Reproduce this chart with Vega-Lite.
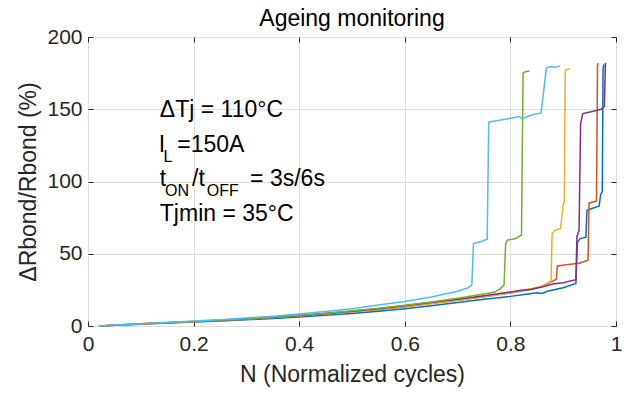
{
  "$schema": "https://vega.github.io/schema/vega-lite/v6.json",
  "width": 528,
  "height": 289,
  "autosize": {"type": "none"},
  "padding": {"left": 88, "top": 37, "right": 14, "bottom": 72},
  "background": "white",
  "config": {"view": {"stroke": "#262626", "strokeWidth": 1}, "font": "Liberation Sans"},
  "title": {"text": "Ageing monitoring", "fontSize": 23, "fontWeight": "normal", "font": "Liberation Sans", "color": "#000000", "offset": -5},
  "datasets": {
    "curves": [
      {"s": "s1", "N": 0.023, "v": 0}, {"s": "s1", "N": 0.05, "v": 0.5}, {"s": "s1", "N": 0.1, "v": 1.2}, {"s": "s1", "N": 0.15, "v": 2}, {"s": "s1", "N": 0.2, "v": 2.7}, {"s": "s1", "N": 0.25, "v": 3.4}, {"s": "s1", "N": 0.3, "v": 4.3}, {"s": "s1", "N": 0.35, "v": 5.2}, {"s": "s1", "N": 0.4, "v": 6.2}, {"s": "s1", "N": 0.45, "v": 7.4}, {"s": "s1", "N": 0.5, "v": 8.7}, {"s": "s1", "N": 0.55, "v": 10.2}, {"s": "s1", "N": 0.6, "v": 12}, {"s": "s1", "N": 0.65, "v": 14}, {"s": "s1", "N": 0.7, "v": 16.3}, {"s": "s1", "N": 0.75, "v": 18.5}, {"s": "s1", "N": 0.8, "v": 20.5}, {"s": "s1", "N": 0.83, "v": 22}, {"s": "s1", "N": 0.85, "v": 23}, {"s": "s1", "N": 0.86, "v": 22.5}, {"s": "s1", "N": 0.87, "v": 24}, {"s": "s1", "N": 0.9, "v": 26.5}, {"s": "s1", "N": 0.924, "v": 29.5}, {"s": "s1", "N": 0.927, "v": 58}, {"s": "s1", "N": 0.932, "v": 60.5}, {"s": "s1", "N": 0.943, "v": 61.5}, {"s": "s1", "N": 0.945, "v": 80}, {"s": "s1", "N": 0.968, "v": 83}, {"s": "s1", "N": 0.971, "v": 91}, {"s": "s1", "N": 0.974, "v": 93}, {"s": "s1", "N": 0.9755, "v": 178}, {"s": "s1", "N": 0.977, "v": 181},
      {"s": "s2", "N": 0.022, "v": 0}, {"s": "s2", "N": 0.05, "v": 0.6}, {"s": "s2", "N": 0.1, "v": 1.4}, {"s": "s2", "N": 0.15, "v": 2.2}, {"s": "s2", "N": 0.2, "v": 3}, {"s": "s2", "N": 0.25, "v": 3.8}, {"s": "s2", "N": 0.3, "v": 4.8}, {"s": "s2", "N": 0.35, "v": 5.8}, {"s": "s2", "N": 0.4, "v": 7}, {"s": "s2", "N": 0.45, "v": 8.3}, {"s": "s2", "N": 0.5, "v": 9.8}, {"s": "s2", "N": 0.55, "v": 11.5}, {"s": "s2", "N": 0.6, "v": 13.4}, {"s": "s2", "N": 0.65, "v": 15.5}, {"s": "s2", "N": 0.7, "v": 17.8}, {"s": "s2", "N": 0.75, "v": 20.3}, {"s": "s2", "N": 0.8, "v": 22.8}, {"s": "s2", "N": 0.82, "v": 24}, {"s": "s2", "N": 0.84, "v": 25.5}, {"s": "s2", "N": 0.86, "v": 27.5}, {"s": "s2", "N": 0.88, "v": 31}, {"s": "s2", "N": 0.887, "v": 32.5}, {"s": "s2", "N": 0.889, "v": 41.5}, {"s": "s2", "N": 0.91, "v": 42.5}, {"s": "s2", "N": 0.93, "v": 43.5}, {"s": "s2", "N": 0.947, "v": 45.5}, {"s": "s2", "N": 0.949, "v": 85}, {"s": "s2", "N": 0.963, "v": 86.5}, {"s": "s2", "N": 0.965, "v": 180}, {"s": "s2", "N": 0.966, "v": 182},
      {"s": "s3", "N": 0.024, "v": 0}, {"s": "s3", "N": 0.05, "v": 0.5}, {"s": "s3", "N": 0.1, "v": 1.4}, {"s": "s3", "N": 0.15, "v": 2.2}, {"s": "s3", "N": 0.2, "v": 3}, {"s": "s3", "N": 0.25, "v": 3.9}, {"s": "s3", "N": 0.3, "v": 4.8}, {"s": "s3", "N": 0.35, "v": 5.9}, {"s": "s3", "N": 0.4, "v": 7.1}, {"s": "s3", "N": 0.45, "v": 8.4}, {"s": "s3", "N": 0.5, "v": 9.9}, {"s": "s3", "N": 0.55, "v": 11.6}, {"s": "s3", "N": 0.6, "v": 13.5}, {"s": "s3", "N": 0.65, "v": 15.6}, {"s": "s3", "N": 0.7, "v": 17.9}, {"s": "s3", "N": 0.75, "v": 20.4}, {"s": "s3", "N": 0.8, "v": 22.8}, {"s": "s3", "N": 0.84, "v": 25.8}, {"s": "s3", "N": 0.86, "v": 27.5}, {"s": "s3", "N": 0.877, "v": 31}, {"s": "s3", "N": 0.879, "v": 64}, {"s": "s3", "N": 0.884, "v": 66}, {"s": "s3", "N": 0.895, "v": 67.5}, {"s": "s3", "N": 0.9, "v": 84}, {"s": "s3", "N": 0.902, "v": 85.5}, {"s": "s3", "N": 0.904, "v": 177}, {"s": "s3", "N": 0.912, "v": 178},
      {"s": "s4", "N": 0.023, "v": 0}, {"s": "s4", "N": 0.05, "v": 0.6}, {"s": "s4", "N": 0.1, "v": 1.5}, {"s": "s4", "N": 0.15, "v": 2.3}, {"s": "s4", "N": 0.2, "v": 3.1}, {"s": "s4", "N": 0.25, "v": 4}, {"s": "s4", "N": 0.3, "v": 5}, {"s": "s4", "N": 0.35, "v": 6.1}, {"s": "s4", "N": 0.4, "v": 7.3}, {"s": "s4", "N": 0.45, "v": 8.7}, {"s": "s4", "N": 0.5, "v": 10.2}, {"s": "s4", "N": 0.55, "v": 12}, {"s": "s4", "N": 0.6, "v": 14}, {"s": "s4", "N": 0.65, "v": 16.2}, {"s": "s4", "N": 0.7, "v": 18.5}, {"s": "s4", "N": 0.75, "v": 21}, {"s": "s4", "N": 0.8, "v": 23.5}, {"s": "s4", "N": 0.82, "v": 24.8}, {"s": "s4", "N": 0.84, "v": 25.5}, {"s": "s4", "N": 0.86, "v": 27}, {"s": "s4", "N": 0.88, "v": 29}, {"s": "s4", "N": 0.9, "v": 30}, {"s": "s4", "N": 0.924, "v": 32}, {"s": "s4", "N": 0.926, "v": 62}, {"s": "s4", "N": 0.93, "v": 66}, {"s": "s4", "N": 0.933, "v": 140}, {"s": "s4", "N": 0.937, "v": 147}, {"s": "s4", "N": 0.955, "v": 148.5}, {"s": "s4", "N": 0.972, "v": 150}, {"s": "s4", "N": 0.978, "v": 152}, {"s": "s4", "N": 0.98, "v": 182},
      {"s": "s5", "N": 0.022, "v": 0}, {"s": "s5", "N": 0.05, "v": 0.6}, {"s": "s5", "N": 0.1, "v": 1.5}, {"s": "s5", "N": 0.15, "v": 2.4}, {"s": "s5", "N": 0.2, "v": 3.2}, {"s": "s5", "N": 0.25, "v": 4.1}, {"s": "s5", "N": 0.3, "v": 5.1}, {"s": "s5", "N": 0.35, "v": 6.2}, {"s": "s5", "N": 0.4, "v": 7.5}, {"s": "s5", "N": 0.45, "v": 8.9}, {"s": "s5", "N": 0.5, "v": 10.5}, {"s": "s5", "N": 0.55, "v": 12.3}, {"s": "s5", "N": 0.6, "v": 14.3}, {"s": "s5", "N": 0.65, "v": 16.6}, {"s": "s5", "N": 0.7, "v": 19.2}, {"s": "s5", "N": 0.75, "v": 22.2}, {"s": "s5", "N": 0.77, "v": 23.5}, {"s": "s5", "N": 0.78, "v": 25.5}, {"s": "s5", "N": 0.788, "v": 28.5}, {"s": "s5", "N": 0.791, "v": 57}, {"s": "s5", "N": 0.795, "v": 59.5}, {"s": "s5", "N": 0.81, "v": 60.5}, {"s": "s5", "N": 0.821, "v": 63}, {"s": "s5", "N": 0.824, "v": 175}, {"s": "s5", "N": 0.828, "v": 176}, {"s": "s5", "N": 0.836, "v": 176.5},
      {"s": "s6", "N": 0.02, "v": 0}, {"s": "s6", "N": 0.05, "v": 0.7}, {"s": "s6", "N": 0.1, "v": 1.6}, {"s": "s6", "N": 0.15, "v": 2.5}, {"s": "s6", "N": 0.2, "v": 3.4}, {"s": "s6", "N": 0.25, "v": 4.4}, {"s": "s6", "N": 0.3, "v": 5.5}, {"s": "s6", "N": 0.35, "v": 6.8}, {"s": "s6", "N": 0.4, "v": 8.3}, {"s": "s6", "N": 0.45, "v": 10}, {"s": "s6", "N": 0.5, "v": 12}, {"s": "s6", "N": 0.55, "v": 14.5}, {"s": "s6", "N": 0.6, "v": 17}, {"s": "s6", "N": 0.65, "v": 20}, {"s": "s6", "N": 0.7, "v": 24}, {"s": "s6", "N": 0.72, "v": 26.5}, {"s": "s6", "N": 0.727, "v": 28.5}, {"s": "s6", "N": 0.73, "v": 57}, {"s": "s6", "N": 0.745, "v": 58.5}, {"s": "s6", "N": 0.756, "v": 60}, {"s": "s6", "N": 0.759, "v": 141}, {"s": "s6", "N": 0.765, "v": 141.5}, {"s": "s6", "N": 0.79, "v": 143}, {"s": "s6", "N": 0.817, "v": 145}, {"s": "s6", "N": 0.822, "v": 143.5}, {"s": "s6", "N": 0.84, "v": 146}, {"s": "s6", "N": 0.858, "v": 147.5}, {"s": "s6", "N": 0.862, "v": 159}, {"s": "s6", "N": 0.868, "v": 178.5}, {"s": "s6", "N": 0.875, "v": 179.5}, {"s": "s6", "N": 0.885, "v": 179}, {"s": "s6", "N": 0.894, "v": 180}
    ],
    "notes": [
      {"t": "ΔTj = 110°C", "N": 0.136, "v": 144.6},
      {"t": "I", "N": 0.134, "v": 120.4},
      {"t": "=150A", "N": 0.169, "v": 120.4},
      {"t": "t", "N": 0.136, "v": 96.9},
      {"t": "/t", "N": 0.197, "v": 96.9},
      {"t": "= 3s/6s", "N": 0.307, "v": 96.9},
      {"t": "Tjmin = 35°C", "N": 0.136, "v": 72.7}
    ],
    "subs": [
      {"t": "L", "N": 0.143, "v": 113.5},
      {"t": "ON", "N": 0.146, "v": 90},
      {"t": "OFF", "N": 0.225, "v": 90}
    ]
  },
  "layer": [
    {
      "data": {"name": "curves"},
      "mark": {"type": "line", "strokeWidth": 1.5},
      "encoding": {
        "x": {"field": "N", "type": "quantitative", "scale": {"domain": [0, 1], "nice": false},
          "axis": {"orient": "bottom", "values": [0, 0.2, 0.4, 0.6, 0.8, 1], "format": "~g", "title": "N (Normalized cycles)",
            "labelFontSize": 21, "labelColor": "#262626", "labelFont": "Liberation Sans", "labelPadding": 12,
            "titleFontSize": 23, "titleFontWeight": "normal", "titleColor": "#262626", "titleFont": "Liberation Sans", "titlePadding": 9,
            "tickSize": -5, "tickColor": "#262626", "domain": false, "grid": true, "gridColor": "#dedede", "labelFlush": false}},
        "y": {"field": "v", "type": "quantitative", "scale": {"domain": [0, 200], "nice": false},
          "axis": {"orient": "left", "values": [0, 50, 100, 150, 200], "title": "ΔRbond/Rbond (%)",
            "labelFontSize": 21, "labelColor": "#262626", "labelFont": "Liberation Sans", "labelPadding": 11,
            "titleFontSize": 23, "titleFontWeight": "normal", "titleColor": "#262626", "titleFont": "Liberation Sans", "titlePadding": 6,
            "tickSize": -5, "tickColor": "#262626", "domain": false, "grid": true, "gridColor": "#dedede", "labelFlush": false}},
        "color": {"field": "s", "type": "nominal", "legend": null,
          "scale": {"domain": ["s1", "s2", "s3", "s4", "s5", "s6"], "range": ["#0072BD", "#D95319", "#EDB120", "#7E2F8E", "#77AC30", "#4DBEEE"]}}
      }
    },
    {
      "data": {"name": "notes"},
      "mark": {"type": "text", "align": "left", "baseline": "alphabetic", "fontSize": 23, "font": "Liberation Sans", "color": "#000000"},
      "encoding": {
        "x": {"field": "N", "type": "quantitative", "axis": {"orient": "top", "values": [0, 0.2, 0.4, 0.6, 0.8, 1], "labels": false, "title": null, "grid": false, "domain": false, "tickSize": -5, "tickColor": "#262626"}},
        "y": {"field": "v", "type": "quantitative", "axis": {"orient": "right", "values": [0, 50, 100, 150, 200], "labels": false, "title": null, "grid": false, "domain": false, "tickSize": -5, "tickColor": "#262626"}},
        "text": {"field": "t"}
      }
    },
    {
      "data": {"name": "subs"},
      "mark": {"type": "text", "align": "left", "baseline": "alphabetic", "fontSize": 16, "font": "Liberation Sans", "color": "#000000"},
      "encoding": {
        "x": {"field": "N", "type": "quantitative", "axis": null},
        "y": {"field": "v", "type": "quantitative", "axis": null},
        "text": {"field": "t"}
      }
    }
  ],
  "resolve": {"axis": {"x": "independent", "y": "independent"}}
}
